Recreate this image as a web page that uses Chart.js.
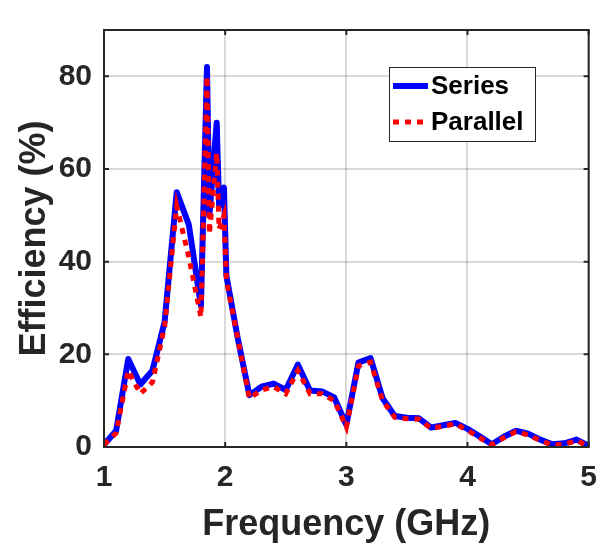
<!DOCTYPE html>
<html>
<head>
<meta charset="utf-8">
<script src="https://cdn.jsdelivr.net/npm/chart.js@4.4.1/dist/chart.umd.min.js"></script>
<style>
  html, body { margin: 0; padding: 0; background: #fff; }
</style>
</head>
<body>
<canvas id="myChart" width="610" height="547"></canvas>
<script>
// frequency points (GHz)
const freq = [1.0, 1.1, 1.2, 1.3, 1.4, 1.5, 1.6, 1.7, 1.8, 1.85, 1.87, 1.93, 1.95, 1.99, 2.01,
    2.1, 2.2, 2.3, 2.4, 2.5, 2.6, 2.7, 2.8, 2.9, 3.0, 3.1, 3.2, 3.3, 3.4, 3.5, 3.6, 3.7, 3.8,
    3.9, 4.0, 4.1, 4.2, 4.3, 4.4, 4.5, 4.6, 4.7, 4.8, 4.9, 5.0];
// efficiency (%)
const seriesEff = [0.5, 3.5, 19, 13.5, 16.5, 27, 55, 48, 30.5, 82, 50, 70, 52, 56, 37,
    24, 11.2, 13, 13.7, 12.3, 17.8, 12.2, 12, 10.7, 4.8, 18.2, 19.2, 10.5, 6.7, 6.3, 6.2, 4.2, 4.7,
    5.2, 3.9, 2.3, 0.6, 2.2, 3.5, 2.9, 1.6, 0.6, 0.8, 1.6, 0.3];
const parallelEff = [0.5, 3, 16.5, 11.5, 14, 26, 52, 41, 28, 80, 46, 63.5, 47, 50, 36,
    24, 10.5, 12.3, 13, 11.5, 16.5, 11.5, 11.5, 10, 4.3, 17.5, 18.3, 10, 6.4, 6.1, 6, 4, 4.5,
    5, 3.6, 2, 0.5, 2, 3.3, 2.6, 1.4, 0.4, 0.6, 1.4, 0.1];
const xTicks = [1, 2, 3, 4, 5];
const yTicks = [0, 20, 40, 60, 80];

const FONT = 'Liberation Sans, Arial, Helvetica, sans-serif';
const INK = '#262626';

// box around the axes, inward ticks and the legend
const boxPlugin = {
    id: 'box',
    afterDraw(chart) {
        const { ctx, chartArea: a, scales: { x, y } } = chart;
        ctx.save();
        ctx.strokeStyle = INK;
        ctx.lineWidth = 2;
        ctx.strokeRect(a.left, a.top, a.right - a.left, a.bottom - a.top);
        ctx.beginPath();
        xTicks.forEach(v => {
            const px = x.getPixelForValue(v);
            ctx.moveTo(px, a.bottom); ctx.lineTo(px, a.bottom - 5);
            ctx.moveTo(px, a.top); ctx.lineTo(px, a.top + 5);
        });
        yTicks.forEach(v => {
            const py = y.getPixelForValue(v);
            ctx.moveTo(a.left, py); ctx.lineTo(a.left + 5, py);
            ctx.moveTo(a.right, py); ctx.lineTo(a.right - 5, py);
        });
        ctx.stroke();

        // legend
        const lx = 389, ly = 67, lw = 146, lh = 74;
        ctx.fillStyle = '#fff';
        ctx.fillRect(lx, ly, lw, lh);
        ctx.lineWidth = 1;
        ctx.strokeStyle = INK;
        ctx.strokeRect(lx + 0.5, ly + 0.5, lw, lh);
        ctx.font = 'bold 26px ' + FONT;
        ctx.textBaseline = 'middle';
        chart.data.datasets.forEach((ds, i) => {
            const yy = ly + 19 + i * 36;
            ctx.beginPath();
            ctx.strokeStyle = ds.borderColor;
            ctx.lineWidth = ds.borderWidth;
            ctx.setLineDash(ds.borderDash || []);
            ctx.moveTo(lx + 4, yy);
            ctx.lineTo(lx + 39, yy);
            ctx.stroke();
            ctx.setLineDash([]);
            ctx.fillStyle = '#000';
            ctx.fillText(ds.label, lx + 42, yy + 1);
        });
        ctx.restore();
    }
};

const ctx = document.getElementById('myChart').getContext('2d');
const myChart = new Chart(ctx, {
    type: 'line',
    data: {
        datasets: [{
            label: 'Series',
            data: freq.map((f, i) => ({ x: f, y: seriesEff[i] })),
            borderColor: '#0000ff',
            borderWidth: 6,
            borderJoinStyle: 'round',
            borderCapStyle: 'round',
            pointRadius: 0,
            tension: 0,
            order: 1
        }, {
            label: 'Parallel',
            data: freq.map((f, i) => ({ x: f, y: parallelEff[i] })),
            borderColor: '#ff0000',
            borderWidth: 5,
            borderDash: [6, 6],
            pointRadius: 0,
            tension: 0,
            order: 0
        }]
    },
    options: {
        responsive: false,
        animation: false,
        layout: { padding: { top: 8, right: 18, left: 0, bottom: 0 } },
        plugins: {
            legend: { display: false },
            tooltip: { enabled: false }
        },
        scales: {
            x: {
                type: 'linear',
                min: 1,
                max: 5,
                afterFit: s => { s.height = 100; },
                afterBuildTicks: s => { s.ticks = xTicks.map(v => ({ value: v })); },
                grid: { color: 'rgba(0,0,0,0.15)', lineWidth: 2, drawTicks: false },
                border: { display: false },
                ticks: { color: INK, padding: 13, font: { family: FONT, weight: 'bold', size: 30 } },
                title: {
                    display: true,
                    text: 'Frequency (GHz)',
                    color: INK,
                    padding: { top: 0, bottom: 0 },
                    font: { family: FONT, weight: 'bold', size: 36 }
                }
            },
            y: {
                min: 0,
                max: 90,
                afterFit: s => { s.width = 104; },
                afterBuildTicks: s => { s.ticks = yTicks.map(v => ({ value: v })); },
                grid: { color: 'rgba(0,0,0,0.15)', lineWidth: 2, drawTicks: false },
                border: { display: false },
                ticks: { color: INK, padding: 12, font: { family: FONT, weight: 'bold', size: 30 } },
                title: {
                    display: true,
                    text: 'Efficiency (%)',
                    color: INK,
                    padding: { top: 13, bottom: 0 },
                    font: { family: FONT, weight: 'bold', size: 36 }
                }
            }
        }
    },
    plugins: [boxPlugin]
});
</script>
</body>
</html>
